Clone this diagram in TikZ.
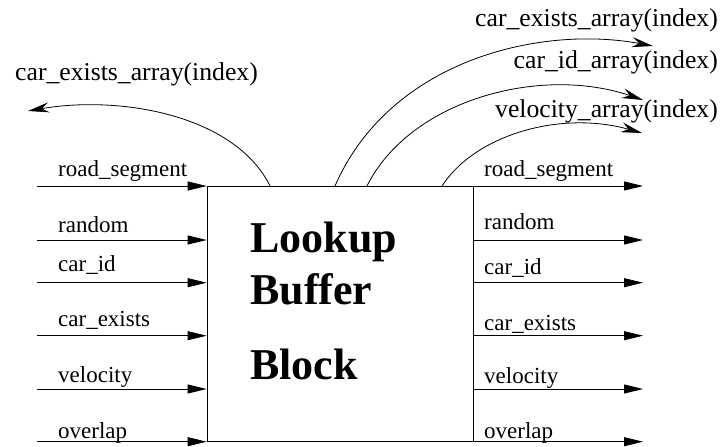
\documentclass[tikz,border=0pt]{standalone}
\usepackage{fontspec}
\setmainfont{Liberation Serif}
\usetikzlibrary{arrows.meta}
\begin{document}
\begin{tikzpicture}[x=1pt,y=-1pt,
  sig/.style={draw, line width=0.8pt, -{Triangle[length=19pt,width=9pt]}},
  arcsig/.style={draw, line width=0.8pt, -{Stealth[length=21pt,width=10pt,inset=7pt]}},
  lbl/.style={anchor=base west, inner sep=0pt, font=\fontsize{23}{23}\selectfont},
  toplbl/.style={inner sep=0pt, font=\fontsize{25.7}{25.7}\selectfont},
  ttl/.style={anchor=base west, inner sep=0pt, font=\fontsize{44}{44}\selectfont\bfseries},
  blk/.style={draw, line width=0.8pt, minimum width=266pt, minimum height=255.7pt, inner sep=0pt}]
\useasboundingbox (0,0) rectangle (721,447);
\node[blk] (box) at (340,313.85) {};
\node[ttl] (t1) at (250,252) {Lookup};
\node[ttl] (t2) at (250,304) {Buffer};
\node[ttl] (t3) at (250,379) {Block};
% inputs
\coordinate (i1) at (37,186);
\coordinate (i2) at (37,240);
\coordinate (i3) at (37,282.7);
\coordinate (i4) at (37,335.7);
\coordinate (i5) at (37,389);
\coordinate (i6) at (37,441.7);
\foreach \k in {1,...,6} {\draw[sig] (i\k) -- (i\k -| box.west);}
\node[lbl] (li1) at (58,176.7) {road\_segment};
\node[lbl] (li2) at (58,232) {random};
\node[lbl] (li3) at (58,271.7) {car\_id};
\node[lbl] (li4) at (58,326.7) {car\_exists};
\node[lbl] (li5) at (58,382) {velocity};
\node[lbl] (li6) at (58,438) {overlap};
% outputs
\coordinate (o1) at (643,186);
\coordinate (o2) at (643,240);
\coordinate (o3) at (643,282.7);
\coordinate (o4) at (643,335.7);
\coordinate (o5) at (643,389);
\coordinate (o6) at (643,441.7);
\foreach \k in {1,...,6} {\draw[sig] (box.east |- o\k) -- (o\k);}
\node[lbl] (lo1) at (484,176) {road\_segment};
\node[lbl] (lo2) at (484,229) {random};
\node[lbl] (lo3) at (484,274) {car\_id};
\node[lbl] (lo4) at (484,330) {car\_exists};
\node[lbl] (lo5) at (484,383) {velocity};
\node[lbl] (lo6) at (484,438) {overlap};
% arcs
\coordinate (a0) at (270,186);
\coordinate (e0) at (28,111);
\coordinate (a1) at (335,186);
\coordinate (e1) at (653,46);
\coordinate (a2) at (367,186);
\coordinate (e2) at (643,100);
\coordinate (a3) at (442,186);
\coordinate (e3) at (642,133);
\draw[arcsig] (a0) .. controls (235,115) and (120,95) .. (e0);
\draw[arcsig] (a1) .. controls (390,60) and (540,25) .. (e1);
\draw[arcsig] (a2) .. controls (410,100) and (540,65) .. (e2);
\draw[arcsig] (a3) .. controls (475,135) and (560,110) .. (e3);
\node[toplbl, anchor=base west] (ll) at (15,80) {car\_exists\_array(index)};
\node[toplbl, anchor=base east] (r1) at (718,26.7) {car\_exists\_array(index)};
\node[toplbl, anchor=base east] (r2) at (718,68) {car\_id\_array(index)};
\node[toplbl, anchor=base east] (r3) at (718,117) {velocity\_array(index)};
\end{tikzpicture}
\end{document}
